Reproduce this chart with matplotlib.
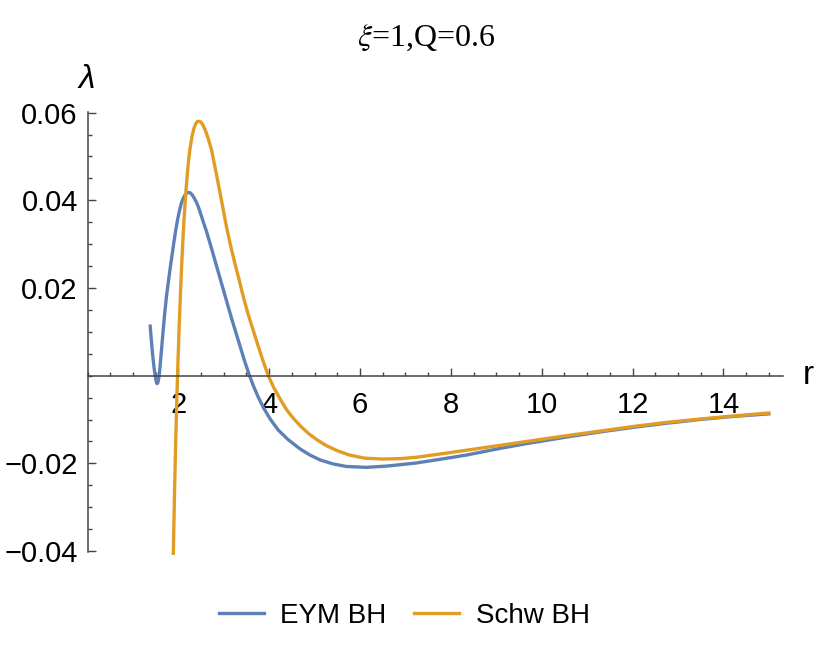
import matplotlib
matplotlib.use("Agg")
import matplotlib.pyplot as plt
from matplotlib.ticker import MultipleLocator, FixedLocator

# EYM BH curve
r_eym = [1.38, 1.40, 1.42, 1.44, 1.46, 1.48, 1.50, 1.515, 1.53, 1.545, 1.56, 1.575,
         1.59, 1.61, 1.64, 1.67, 1.70, 1.74, 1.78, 1.82, 1.86, 1.90, 1.94, 1.98,
         2.02, 2.06, 2.10, 2.14, 2.18, 2.22, 2.26, 2.30, 2.35, 2.40, 2.44, 2.48,
         2.53, 2.58, 2.62, 2.70, 2.80, 2.93, 3.03, 3.14, 3.25, 3.36, 3.46, 3.56,
         3.66, 3.76, 3.88, 4.03, 4.20, 4.42, 4.68, 4.90, 5.12, 5.40, 5.70, 6.14,
         6.60, 7.24, 7.80, 8.34, 9.07, 9.60, 10.13, 10.60, 11.30, 12.00, 12.70,
         13.47, 14.20, 15.00]
lam_eym = [0.0113, 0.0088, 0.0064, 0.0042, 0.0023, 0.0007, -0.0006, -0.0014, -0.0018,
           -0.0017, -0.0011, -0.0001, 0.0013, 0.0036, 0.0072, 0.0108, 0.0142, 0.0182,
           0.0214, 0.0245, 0.0274, 0.0303, 0.0330, 0.0354, 0.0374, 0.0391, 0.0403,
           0.0411, 0.0416, 0.0418, 0.0417, 0.0413, 0.0405, 0.0395, 0.0385, 0.0373,
           0.0357, 0.0341, 0.0329, 0.0301, 0.0265, 0.0218, 0.0182, 0.0142, 0.0104,
           0.0067, 0.0033, 0.0002, -0.0025, -0.0049, -0.0074, -0.0100, -0.0124,
           -0.0146, -0.0167, -0.0181, -0.0192, -0.0201, -0.0207, -0.0209, -0.0206,
           -0.0199, -0.0190, -0.0181, -0.0166, -0.0156, -0.0147, -0.0139, -0.0128,
           -0.0118, -0.0109, -0.0100, -0.0093, -0.0087]

# Schw BH curve
r_schw = [1.89, 1.90, 1.91, 1.92, 1.93, 1.94, 1.95, 1.96, 1.97, 1.98, 1.99, 2.01,
          2.03, 2.05, 2.07, 2.09, 2.11, 2.13, 2.15, 2.17, 2.20, 2.23, 2.26, 2.30,
          2.34, 2.38, 2.42, 2.46, 2.50, 2.55, 2.60, 2.66, 2.73, 2.82, 2.92, 3.00,
          3.07, 3.15, 3.24, 3.34, 3.43, 3.54, 3.65, 3.76, 3.87, 3.98, 4.10, 4.24,
          4.38, 4.53, 4.70, 4.88, 5.05, 5.25, 5.50, 5.77, 6.10, 6.50, 6.90, 7.24,
          7.80, 8.34, 9.07, 9.60, 10.13, 10.60, 11.30, 12.00, 12.70, 13.47, 14.20,
          15.00]
lam_schw = [-0.0405, -0.0350, -0.0298, -0.0249, -0.0203, -0.0159, -0.0118, -0.0079,
            -0.0042, -0.0007, 0.0026, 0.0088, 0.0144, 0.0196, 0.0244, 0.0288, 0.0328,
            0.0364, 0.0396, 0.0425, 0.0463, 0.0495, 0.0520, 0.0545, 0.0563, 0.0574,
            0.0580, 0.0580, 0.0578, 0.0570, 0.0558, 0.0540, 0.0515, 0.0469, 0.0416,
            0.0372, 0.0334, 0.0297, 0.0258, 0.0218, 0.0180, 0.0139, 0.0103, 0.0067,
            0.0032, 0.0000, -0.0027, -0.0053, -0.0077, -0.0097, -0.0116, -0.0133,
            -0.0146, -0.0159, -0.0171, -0.0181, -0.0188, -0.0190, -0.0189, -0.0186,
            -0.0178, -0.0170, -0.0159, -0.0151, -0.0143, -0.0136, -0.0126, -0.0116,
            -0.0107, -0.0099, -0.0092, -0.0085]

x_ticks = [2, 4, 6, 8, 10, 12, 14]
y_ticks = [-0.04, -0.02, 0.02, 0.04, 0.06]
y_labels = ['\u22120.04', '\u22120.02', '0.02', '0.04', '0.06']

plt.rcParams['font.family'] = ['Liberation Sans', 'DejaVu Sans']
plt.rcParams['mathtext.fontset'] = 'stix'

W, H = 817, 651
fig = plt.figure(figsize=(W / 100, H / 100), dpi=100)
x0, x1 = 87.5, 782.7
ytop, ybot = 111.7, 552.0
ax = fig.add_axes([x0 / W, 1 - ybot / H, (x1 - x0) / W, (ybot - ytop) / H])
ax.set_xlim(0, (x1 - x0) / 45.42)
ax.set_ylim(-0.0402, 0.0602)

ax.plot(r_eym, lam_eym, color='#5E81B5', lw=2.4, label='EYM BH', clip_on=False,
        solid_joinstyle='round')
ax.plot(r_schw, lam_schw, color='#E19C24', lw=2.4, label='Schw BH', clip_on=False,
        solid_joinstyle='round')

for s in ['top', 'right']:
    ax.spines[s].set_visible(False)
ax.spines['left'].set_position(('data', 0))
ax.spines['bottom'].set_position(('data', 0))
for s in ['left', 'bottom']:
    ax.spines[s].set_color('#444444')
    ax.spines[s].set_linewidth(1.1)

ax.xaxis.set_major_locator(FixedLocator(x_ticks))
ax.xaxis.set_minor_locator(MultipleLocator(0.5))
ax.set_xticklabels([str(t) for t in x_ticks])
ax.yaxis.set_major_locator(FixedLocator(y_ticks))
ax.yaxis.set_minor_locator(MultipleLocator(0.005))
ax.set_yticklabels(y_labels)
ax.tick_params(which='both', direction='in', color='#444444', width=1.0)
ax.tick_params(which='major', length=5.5, labelsize=21)
ax.tick_params(which='minor', length=3.2)
ax.tick_params(axis='x', which='major', pad=11)
ax.tick_params(axis='y', which='major', pad=7)

fig.text(87 / W, 1 - 80 / H, '\u03bb', fontsize=24, ha='center', va='center',
         style='italic')
fig.text(808 / W, 1 - 376 / H, 'r', fontsize=24, ha='center', va='center')
fig.text(0.522, 1 - 38 / H, r'$\xi$=1,Q=0.6', fontsize=23, ha='center',
         va='center', family='Liberation Serif')

fig.legend(loc='center', bbox_to_anchor=(0.495, 1 - 616 / H), ncol=2,
           frameon=False, fontsize=20, handlelength=1.6, handletextpad=0.6,
           columnspacing=1.0)

fig.savefig('out.png', dpi=100)
